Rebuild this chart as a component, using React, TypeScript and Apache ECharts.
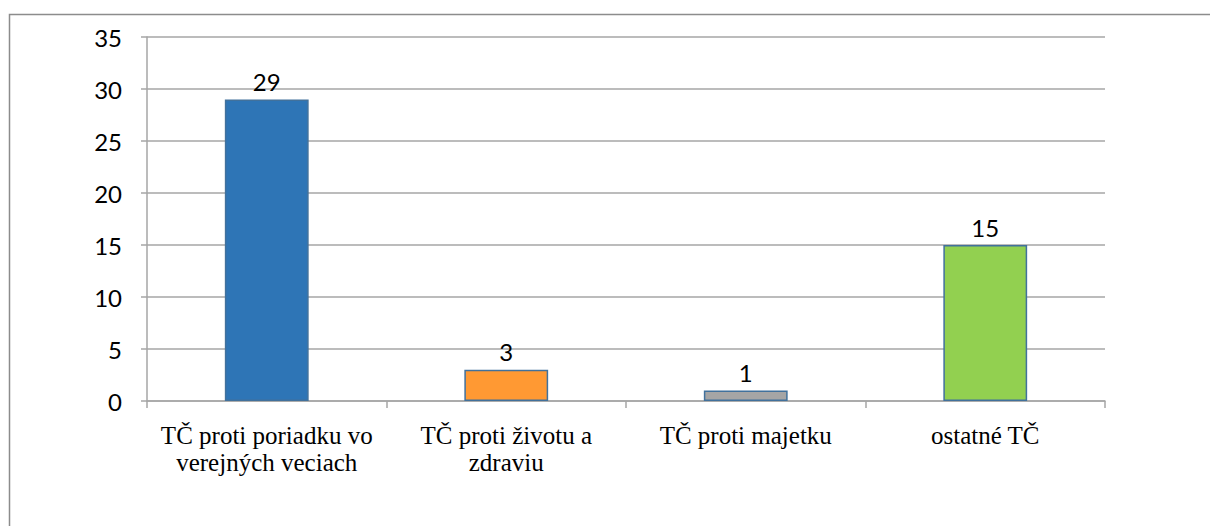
import React, { useEffect, useRef } from "react";
import * as echarts from "echarts";

const categories = [
  "TČ proti poriadku vo\nverejných veciach",
  "TČ proti životu a\nzdraviu",
  "TČ proti majetku",
  "ostatné TČ",
];
const values = [29, 3, 1, 15];
const barColors = ["#2E75B6", "#FF9933", "#A5A5A5", "#92D050"];
const yMin = 0;
const yMax = 35;
const yInterval = 5;

export default function App() {
  const ref = useRef<HTMLDivElement>(null);
  useEffect(() => {
    if (!ref.current) return;
    const chart = echarts.init(ref.current, undefined, { renderer: "svg" });
    const gray = "#A6A6A6";
    chart.setOption({
      animation: false,
      backgroundColor: "#FFFFFF",
      graphic: [
        {
          type: "rect",
          shape: { x: 9.5, y: 14.5, width: 1230, height: 600 },
          style: { fill: "none", stroke: "#8C8C8C", lineWidth: 1.5 },
          silent: true,
        },
      ],
      grid: { left: 147, right: 105, top: 37, bottom: 125, containLabel: false },
      xAxis: {
        type: "category",
        data: categories,
        boundaryGap: true,
        axisLine: { show: true, lineStyle: { color: gray, width: 1.5 } },
        axisTick: { show: true, length: 7, lineStyle: { color: gray, width: 1.5 } },
        axisLabel: {
          interval: 0,
          margin: 21,
          fontFamily: "Liberation Serif",
          fontSize: 25,
          lineHeight: 27,
          color: "#000000",
        },
      },
      yAxis: {
        type: "value",
        min: yMin,
        max: yMax,
        interval: yInterval,
        axisLine: { show: true, lineStyle: { color: gray, width: 1.5 } },
        axisTick: { show: true, length: 6, lineStyle: { color: gray, width: 1.5 } },
        splitLine: { show: true, lineStyle: { color: gray, width: 1.5 } },
        axisLabel: {
          margin: 25,
          fontFamily: "Lato",
          fontSize: 24,
          color: "#000000",
        },
      },
      series: [
        {
          type: "bar",
          data: values.map((v, i) => ({
            value: v,
            itemStyle: { color: barColors[i] },
          })),
          barWidth: "35%",
          itemStyle: { borderColor: "#41719C", borderWidth: 1.5 },
          label: {
            show: true,
            position: "top",
            distance: 6,
            fontFamily: "Lato",
            fontSize: 24,
            color: "#000000",
          },
        },
      ],
    });
    return () => chart.dispose();
  }, []);
  return (
    <div
      ref={ref}
      style={{ position: "absolute", left: 0, top: 0, width: 1210, height: 526 }}
    />
  );
}
